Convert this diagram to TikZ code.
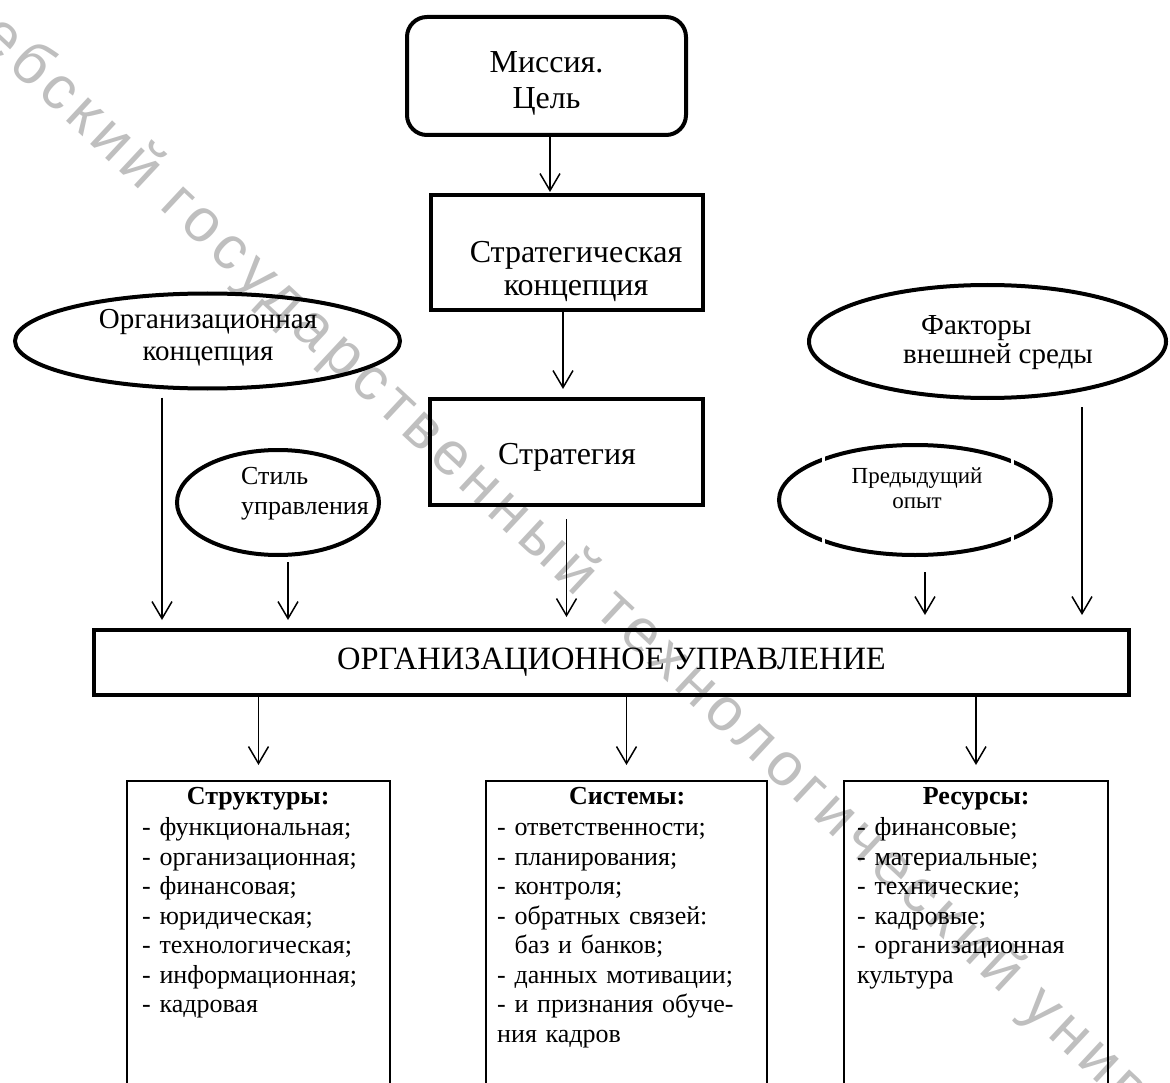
\documentclass[tikz,border=0pt]{standalone}
\usepackage{fontspec}
\setmainfont{Liberation Serif}
\newfontfamily\wmfont[LetterSpace=10]{Liberation Sans}
\usetikzlibrary{shapes.geometric,arrows.meta}
\begin{document}
\begin{tikzpicture}[x=1pt,y=-1pt,
  box/.style={draw,line width=4pt,inner sep=0pt,align=center},
  oval/.style={draw,ellipse,line width=4pt,inner sep=0pt},
  listbox/.style={draw,line width=2pt,inner sep=0pt,anchor=north},
  lbl/.style={inner sep=0pt,align=center},
  listtxt/.style={inner sep=0pt,anchor=north west,align=left,font=\fontsize{26}{29.5}\selectfont},
  arr/.style={-{Straight Barb[length=17pt,width=20pt]},line width=1.5pt},
  gap/.style={fill=white,draw=none}
]
\useasboundingbox (0,0) rectangle (1170,1083);
% watermark
\node[rotate=-43, text=black!25, font=\wmfont\fontsize{61}{61}\selectfont, inner sep=0pt] (wm) at (616,612) {Витебский государственный технологический университет};

% top chain
\node[box, rounded corners=20pt, minimum width=279pt, minimum height=118pt] (mission) at (546.5,76) {};
\node[lbl, font=\fontsize{32}{36}\selectfont] (missiont) at (546.5,83) {Миссия.\\Цель};
\node[box, minimum width=272pt, minimum height=115pt] (stratc) at (567,252.5) {};
\node[lbl, font=\fontsize{32}{33}\selectfont] (stratct) at (576,272) {Стратегическая\\концепция};
\node[box, minimum width=273pt, minimum height=106pt] (strat) at (566.5,452) {};
\node[lbl, font=\fontsize{32}{36}\selectfont] (stratt) at (567,457) {Стратегия};

% ellipses
\node[oval, minimum width=385pt, minimum height=95pt] (orgc) at (207.5,341) {};
\node[lbl, font=\fontsize{29}{32}\selectfont] (orgct) at (208,338) {Организационная\\концепция};
\node[oval, minimum width=202pt, minimum height=105pt] (style) at (278,502.5) {};
\node[lbl, align=left, font=\fontsize{26}{30}\selectfont] (stylet) at (305,494) {Стиль\\управления};
\node[oval, minimum width=357pt, minimum height=113pt] (fact) at (987.5,341.5) {};
\node[lbl, font=\fontsize{29}{29}\selectfont] (factt) at (998,343) {Факторы\hspace*{1.5em}\\внешней среды};
\node[oval, minimum width=272pt, minimum height=110pt] (prev) at (915,500) {};
\node[lbl, font=\fontsize{23}{25}\selectfont] (prevt) at (917,488) {Предыдущий\\опыт};
\path[gap] (821.5,450) rectangle (824.5,465);
\path[gap] (1010.5,452) rectangle (1013.5,467);
\path[gap] (821.5,535) rectangle (824.5,550);
\path[gap] (1010.5,533) rectangle (1013.5,548);

% organisational management
\node[box, minimum width=1035pt, minimum height=65pt, font=\fontsize{32.5}{36}\selectfont] (om) at (611.5,662.5) {ОРГАНИЗАЦИОННОЕ УПРАВЛЕНИЕ};

% bottom boxes
\node[listbox, minimum width=263pt, minimum height=330pt] (struct) at (258.5,780) {};
\node[listbox, minimum width=281pt, minimum height=330pt] (sys) at (626.5,780) {};
\node[listbox, minimum width=264pt, minimum height=330pt] (res) at (976,780) {};

\node[listtxt, text width=232pt] (structt) at (142,787) {\hspace*{\fill}\textbf{Структуры:}\hspace*{\fill}\null\\[2pt]
- функциональная;\\
- организационная;\\
- финансовая;\\
- юридическая;\\
- технологическая;\\
- информационная;\\
- кадровая};
\node[listtxt, text width=260pt] (syst) at (497,787) {\hspace*{\fill}\textbf{Системы:}\hspace*{\fill}\null\\[2pt]
- ответственности;\\
- планирования;\\
- контроля;\\
- обратных связей:\\
\phantom{- }баз и банков;\\
- данных мотивации;\\
\makebox[259pt][s]{- и признания обуче-}\\
ния кадров};
\node[listtxt, text width=238pt] (rest) at (857,787) {\hspace*{\fill}\textbf{Ресурсы:}\hspace*{\fill}\null\\[2pt]
- финансовые;\\
- материальные;\\
- технические;\\
- кадровые;\\
\makebox[236pt][s]{- организационная}\\
культура};

% connectors
\path (mission.south) ++(3.5,0) coordinate (a1s);
\draw[arr, shorten >=1pt] (a1s) -- (a1s |- stratc.north);
\path (stratc.south) ++(-4,0) coordinate (a2s);
\draw[arr, shorten >=8pt] (a2s) -- (a2s |- strat.north);
\path (strat.south) ++(0,12) coordinate (a3s);
\draw[arr, shorten >=11pt] (a3s) -- (a3s |- om.north);
\path (orgc.south) ++(-45.5,7) coordinate (a4s);
\draw[arr, shorten >=8pt] (a4s) -- (a4s |- om.north);
\path (style.south) ++(10,5) coordinate (a5s);
\draw[arr, shorten >=8pt] (a5s) -- (a5s |- om.north);
\path (prev.south) ++(10,15) coordinate (a6s);
\draw[arr, shorten >=13pt] (a6s) -- (a6s |- om.north);
\path (fact.south) ++(94.5,7) coordinate (a7s);
\draw[arr, shorten >=13pt] (a7s) -- (a7s |- om.north);
\draw[arr, shorten >=15pt] (om.south -| struct.north) -- (struct.north);
\draw[arr, shorten >=15pt] (om.south -| sys.north) -- (sys.north);
\draw[arr, shorten >=15pt] (om.south -| res.north) -- (res.north);
\end{tikzpicture}
\end{document}
